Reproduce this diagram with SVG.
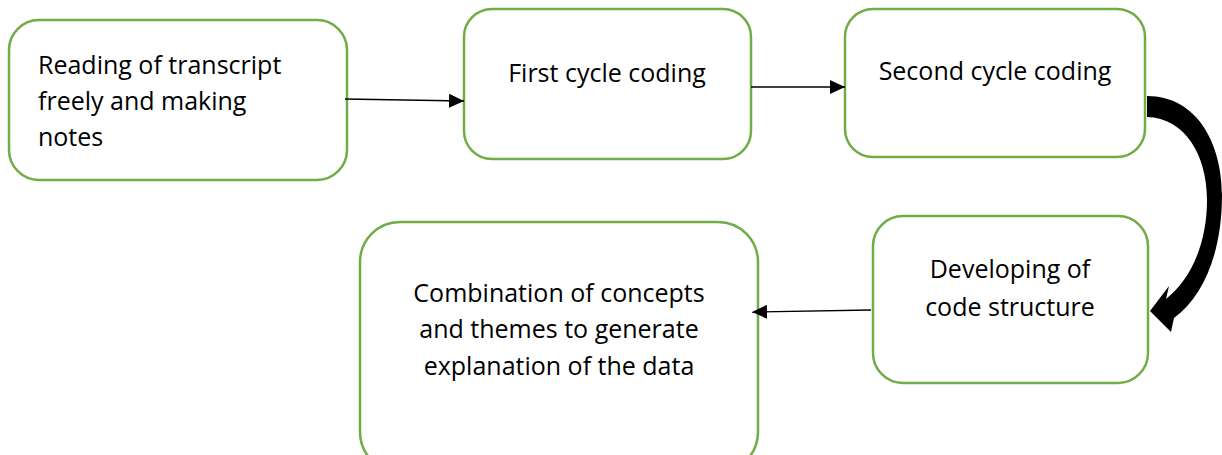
<svg xmlns="http://www.w3.org/2000/svg" width="1222" height="455" viewBox="0 0 1222 455">
  <style>
    .box { fill: #ffffff; stroke: #70ad47; stroke-width: 2.5; }
    .lbl { font-family: "Open Sans", "Noto Sans", sans-serif; font-size: 25px; fill: #000000; }
    .mid { text-anchor: middle; }
    .conn { stroke: #000000; stroke-width: 1.3; fill: none; marker-end: url(#tip); }
  </style>
  <defs>
    <marker id="tip" markerWidth="15" markerHeight="14" viewBox="0 0 15 14" refX="15" refY="7" orient="auto" markerUnits="userSpaceOnUse">
      <path d="M0,0 L15,7 L0,14 Z" fill="#000000"/>
    </marker>
  </defs>
  <rect width="1222" height="455" fill="#ffffff"/>

  <g id="node-reading">
    <rect class="box" x="9" y="20" width="338" height="160" rx="30"/>
    <text class="lbl" x="38" y="74">Reading of transcript</text>
    <text class="lbl" x="38" y="110">freely and making</text>
    <text class="lbl" x="38" y="146">notes</text>
  </g>

  <g id="node-first">
    <rect class="box" x="464" y="9" width="287" height="150" rx="28"/>
    <text class="lbl mid" x="607" y="82">First cycle coding</text>
  </g>

  <g id="node-second">
    <rect class="box" x="845" y="9" width="300" height="148" rx="28"/>
    <text class="lbl mid" x="995" y="80">Second cycle coding</text>
  </g>

  <g id="node-structure">
    <rect class="box" x="873" y="216" width="275" height="167" rx="30"/>
    <text class="lbl mid" x="1010" y="278">Developing of</text>
    <text class="lbl mid" x="1010" y="316">code structure</text>
  </g>

  <g id="node-combination">
    <rect class="box" x="360" y="222" width="398" height="250" rx="40"/>
    <text class="lbl mid" x="559" y="302">Combination of concepts</text>
    <text class="lbl mid" x="559" y="338">and themes to generate</text>
    <text class="lbl mid" x="559" y="375">explanation of the data</text>
  </g>

  <g id="connectors">
    <line class="conn" x1="345" y1="99" x2="464" y2="101"/>
    <line class="conn" x1="751" y1="87" x2="845" y2="87"/>
    <line class="conn" x1="871" y1="310" x2="752" y2="312"/>
    <!-- thick curved arrow from second cycle coding down to code structure -->
    <path d="M1147,96 C1198,96 1222,145 1222,195 C1222,252 1204,296 1174,318 L1171,332 L1150,311 L1169,286 L1166,299 C1190,280 1207,245 1207,200 C1207,155 1185,118 1147,117 Z" fill="#000000"/>
  </g>
</svg>
